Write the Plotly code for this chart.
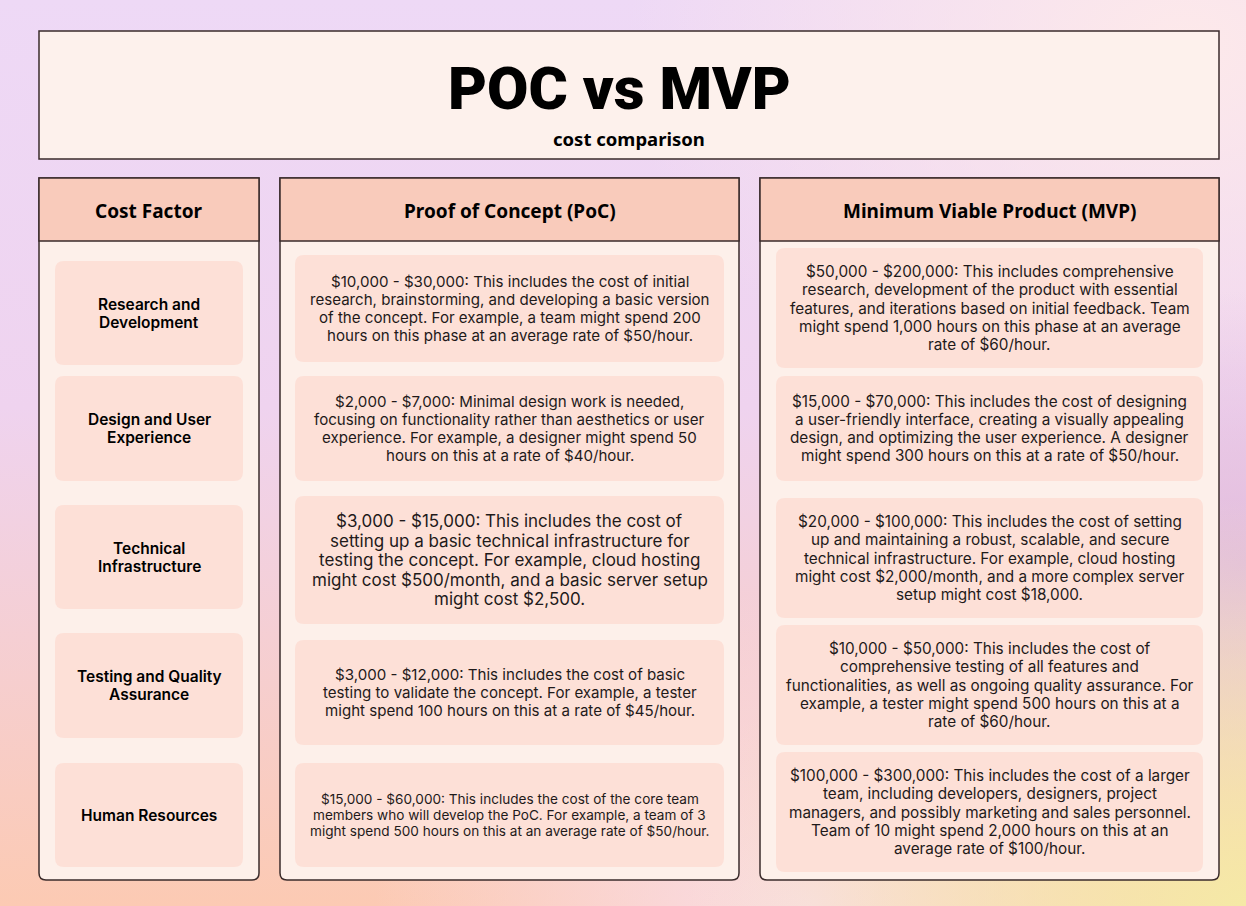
import base64
import plotly.graph_objects as go

# ---------------- data ----------------
title = "POC vs MVP"
subtitle = "cost comparison"
headers = ["Cost Factor", "Proof of Concept (PoC)", "Minimum Viable Product (MVP)"]

factors = [
    "Research and<br>Development",
    "Design and User<br>Experience",
    "Technical<br>Infrastructure",
    "Testing and Quality<br>Assurance",
    "Human Resources",
]

poc_texts = [
    "$10,000 - $30,000: This includes the cost of initial<br>research, brainstorming, and developing a basic version<br>of the concept. For example, a team might spend 200<br>hours on this phase at an average rate of $50/hour.",
    "$2,000 - $7,000: Minimal design work is needed,<br>focusing on functionality rather than aesthetics or user<br>experience. For example, a designer might spend 50<br>hours on this at a rate of $40/hour.",
    "$3,000 - $15,000: This includes the cost of<br>setting up a basic technical infrastructure for<br>testing the concept. For example, cloud hosting<br>might cost $500/month, and a basic server setup<br>might cost $2,500.",
    "$3,000 - $12,000: This includes the cost of basic<br>testing to validate the concept. For example, a tester<br>might spend 100 hours on this at a rate of $45/hour.",
    "$15,000 - $60,000: This includes the cost of the core team<br>members who will develop the PoC. For example, a team of 3<br>might spend 500 hours on this at an average rate of $50/hour.",
]

mvp_texts = [
    "$50,000 - $200,000: This includes comprehensive<br>research, development of the product with essential<br>features, and iterations based on initial feedback. Team<br>might spend 1,000 hours on this phase at an average<br>rate of $60/hour.",
    "$15,000 - $70,000: This includes the cost of designing<br>a user-friendly interface, creating a visually appealing<br>design, and optimizing the user experience. A designer<br>might spend 300 hours on this at a rate of $50/hour.",
    "$20,000 - $100,000: This includes the cost of setting<br>up and maintaining a robust, scalable, and secure<br>technical infrastructure. For example, cloud hosting<br>might cost $2,000/month, and a more complex server<br>setup might cost $18,000.",
    "$10,000 - $50,000: This includes the cost of<br>comprehensive testing of all features and<br>functionalities, as well as ongoing quality assurance. For<br>example, a tester might spend 500 hours on this at a<br>rate of $60/hour.",
    "$100,000 - $300,000: This includes the cost of a larger<br>team, including developers, designers, project<br>managers, and possibly marketing and sales personnel.<br>Team of 10 might spend 2,000 hours on this at an<br>average rate of $100/hour.",
]

# ---------------- layout / style constants ----------------
W, H = 1246, 906
BORDER = "#3a2b2b"
BOX_FILL = "#fdf1ec"
COL_FILL = "#fdf0ea"
HEAD_FILL = "#f9cbbb"
CARD_FILL = "#fde0d7"
TEXT = "#1f1a1a"

title_box = (39, 31, 1219, 159)
title_dx = -10
col_x = [(39, 259), (280, 739), (760, 1219)]
col_top, head_bot, col_bot = 178, 241, 880
card_pad = [16, 15, 16]
card_rows = [
    [(261, 365), (376, 481), (505, 609), (633, 738), (763, 867)],
    [(255, 362), (376, 481), (496, 624), (640, 745), (763, 867)],
    [(248, 368), (376, 481), (498, 618), (625, 745), (752, 872)],
]
col_sizes = [
    [15.5] * 5,
    [15.1, 15.1, 17, 15.1, 13.6],
    [15.3] * 5,
]
col_line_h = [
    [18] * 5,
    [18, 18, 19.5, 18, 16],
    [18.2] * 5,
]
BODY_FONT = "Inter"
HEAD_FONT = "Noto Sans"

# ---------------- background gradient ----------------
svg = f"""<svg xmlns='http://www.w3.org/2000/svg' width='{W}' height='{H}' preserveAspectRatio='none'>
<defs>
<linearGradient id='a' x1='0' y1='0' x2='0' y2='1'>
<stop offset='0' stop-color='#eed9f6'/><stop offset='0.45' stop-color='#efd3ef'/><stop offset='1' stop-color='#fccab3'/></linearGradient>
<radialGradient id='b' cx='1' cy='1' r='0.45'>
<stop offset='0' stop-color='#f5e9a6'/><stop offset='1' stop-color='#f5e9a6' stop-opacity='0'/></radialGradient>
<radialGradient id='c' cx='1' cy='0.62' r='0.3'>
<stop offset='0' stop-color='#e2bde0'/><stop offset='1' stop-color='#e2bde0' stop-opacity='0'/></radialGradient>
<radialGradient id='d' cx='0.95' cy='0.05' r='0.45'>
<stop offset='0' stop-color='#fde9ea'/><stop offset='1' stop-color='#fde9ea' stop-opacity='0'/></radialGradient>
<radialGradient id='e' cx='0.65' cy='1' r='0.35'>
<stop offset='0' stop-color='#f9dde8'/><stop offset='1' stop-color='#f9dde8' stop-opacity='0'/></radialGradient>
</defs>
<rect width='{W}' height='{H}' fill='url(#a)'/>
<rect width='{W}' height='{H}' fill='url(#d)'/>
<rect width='{W}' height='{H}' fill='url(#e)'/>
<rect width='{W}' height='{H}' fill='url(#c)'/>
<rect width='{W}' height='{H}' fill='url(#b)'/>
</svg>"""
bg_src = "data:image/svg+xml;base64," + base64.b64encode(svg.encode()).decode()


def rrect(x0, y0, x1, y1, rt, rb):
    return (f"M {x0+rt},{y0} L {x1-rt},{y0} Q {x1},{y0} {x1},{y0+rt} "
            f"L {x1},{y1-rb} Q {x1},{y1} {x1-rb},{y1} L {x0+rb},{y1} "
            f"Q {x0},{y1} {x0},{y1-rb} L {x0},{y0+rt} Q {x0},{y0} {x0+rt},{y0} Z")


shapes = []
annotations = []

# title box
x0, y0, x1, y1 = title_box
shapes.append(dict(type="rect", x0=x0, y0=y0, x1=x1, y1=y1,
                   fillcolor=BOX_FILL, line=dict(color=BORDER, width=1.5), layer="below"))
annotations.append(dict(x=(x0 + x1) / 2 + title_dx, y=88, text=title, showarrow=False,
                        font=dict(family="Roboto", size=60, color="#000000", weight=900),
                        xanchor="center", yanchor="middle"))
annotations.append(dict(x=(x0 + x1) / 2, y=138, text=subtitle, showarrow=False,
                        font=dict(family=HEAD_FONT, size=18.5, color="#000000", weight=700),
                        xanchor="center", yanchor="middle"))

columns_text = [factors, poc_texts, mvp_texts]

for ci, (cx0, cx1) in enumerate(col_x):
    # body
    shapes.append(dict(type="path", path=rrect(cx0, col_top, cx1, col_bot, 0, 7),
                       fillcolor=COL_FILL, line=dict(color=BORDER, width=1.5), layer="below"))
    # header
    shapes.append(dict(type="rect", x0=cx0, y0=col_top, x1=cx1, y1=head_bot,
                       fillcolor=HEAD_FILL, line=dict(color=BORDER, width=1.5), layer="below"))
    annotations.append(dict(x=(cx0 + cx1) / 2, y=(col_top + head_bot) / 2 + 1,
                            text=headers[ci], showarrow=False,
                            font=dict(family=HEAD_FONT, size=19, color="#000000", weight=700),
                            xanchor="center", yanchor="middle"))
    p = card_pad[ci]
    for ri, (ry0, ry1) in enumerate(card_rows[ci]):
        shapes.append(dict(type="path", path=rrect(cx0 + p, ry0, cx1 - p, ry1, 9, 9),
                           fillcolor=CARD_FILL, line=dict(width=0), layer="below"))
        lines = columns_text[ci][ri].split("<br>")
        lh = col_line_h[ci][ri]
        yc = (ry0 + ry1) / 2
        n = len(lines)
        for li, line in enumerate(lines):
            annotations.append(dict(
                x=(cx0 + cx1) / 2, y=yc + (li - (n - 1) / 2) * lh, text=line,
                showarrow=False, align="center", xanchor="center", yanchor="middle",
                font=dict(family=BODY_FONT, size=col_sizes[ci][ri],
                          color="#000000" if ci == 0 else TEXT,
                          weight=600 if ci == 0 else 400)))

fig = go.Figure()
fig.update_layout(
    width=W, height=H,
    margin=dict(l=0, r=0, t=0, b=0),
    paper_bgcolor="#f3d6ec", plot_bgcolor="rgba(0,0,0,0)",
    xaxis=dict(range=[0, W], visible=False, fixedrange=True),
    yaxis=dict(range=[H, 0], visible=False, fixedrange=True),
    shapes=shapes, annotations=annotations, showlegend=False,
    images=[dict(source=bg_src, xref="paper", yref="paper", x=0, y=1,
                 sizex=1, sizey=1, sizing="stretch", xanchor="left",
                 yanchor="top", layer="below")],
)
fig.write_html("out.html", config=dict(displayModeBar=False),
               post_script="document.body.style.margin='0';document.body.style.overflow='hidden';")
